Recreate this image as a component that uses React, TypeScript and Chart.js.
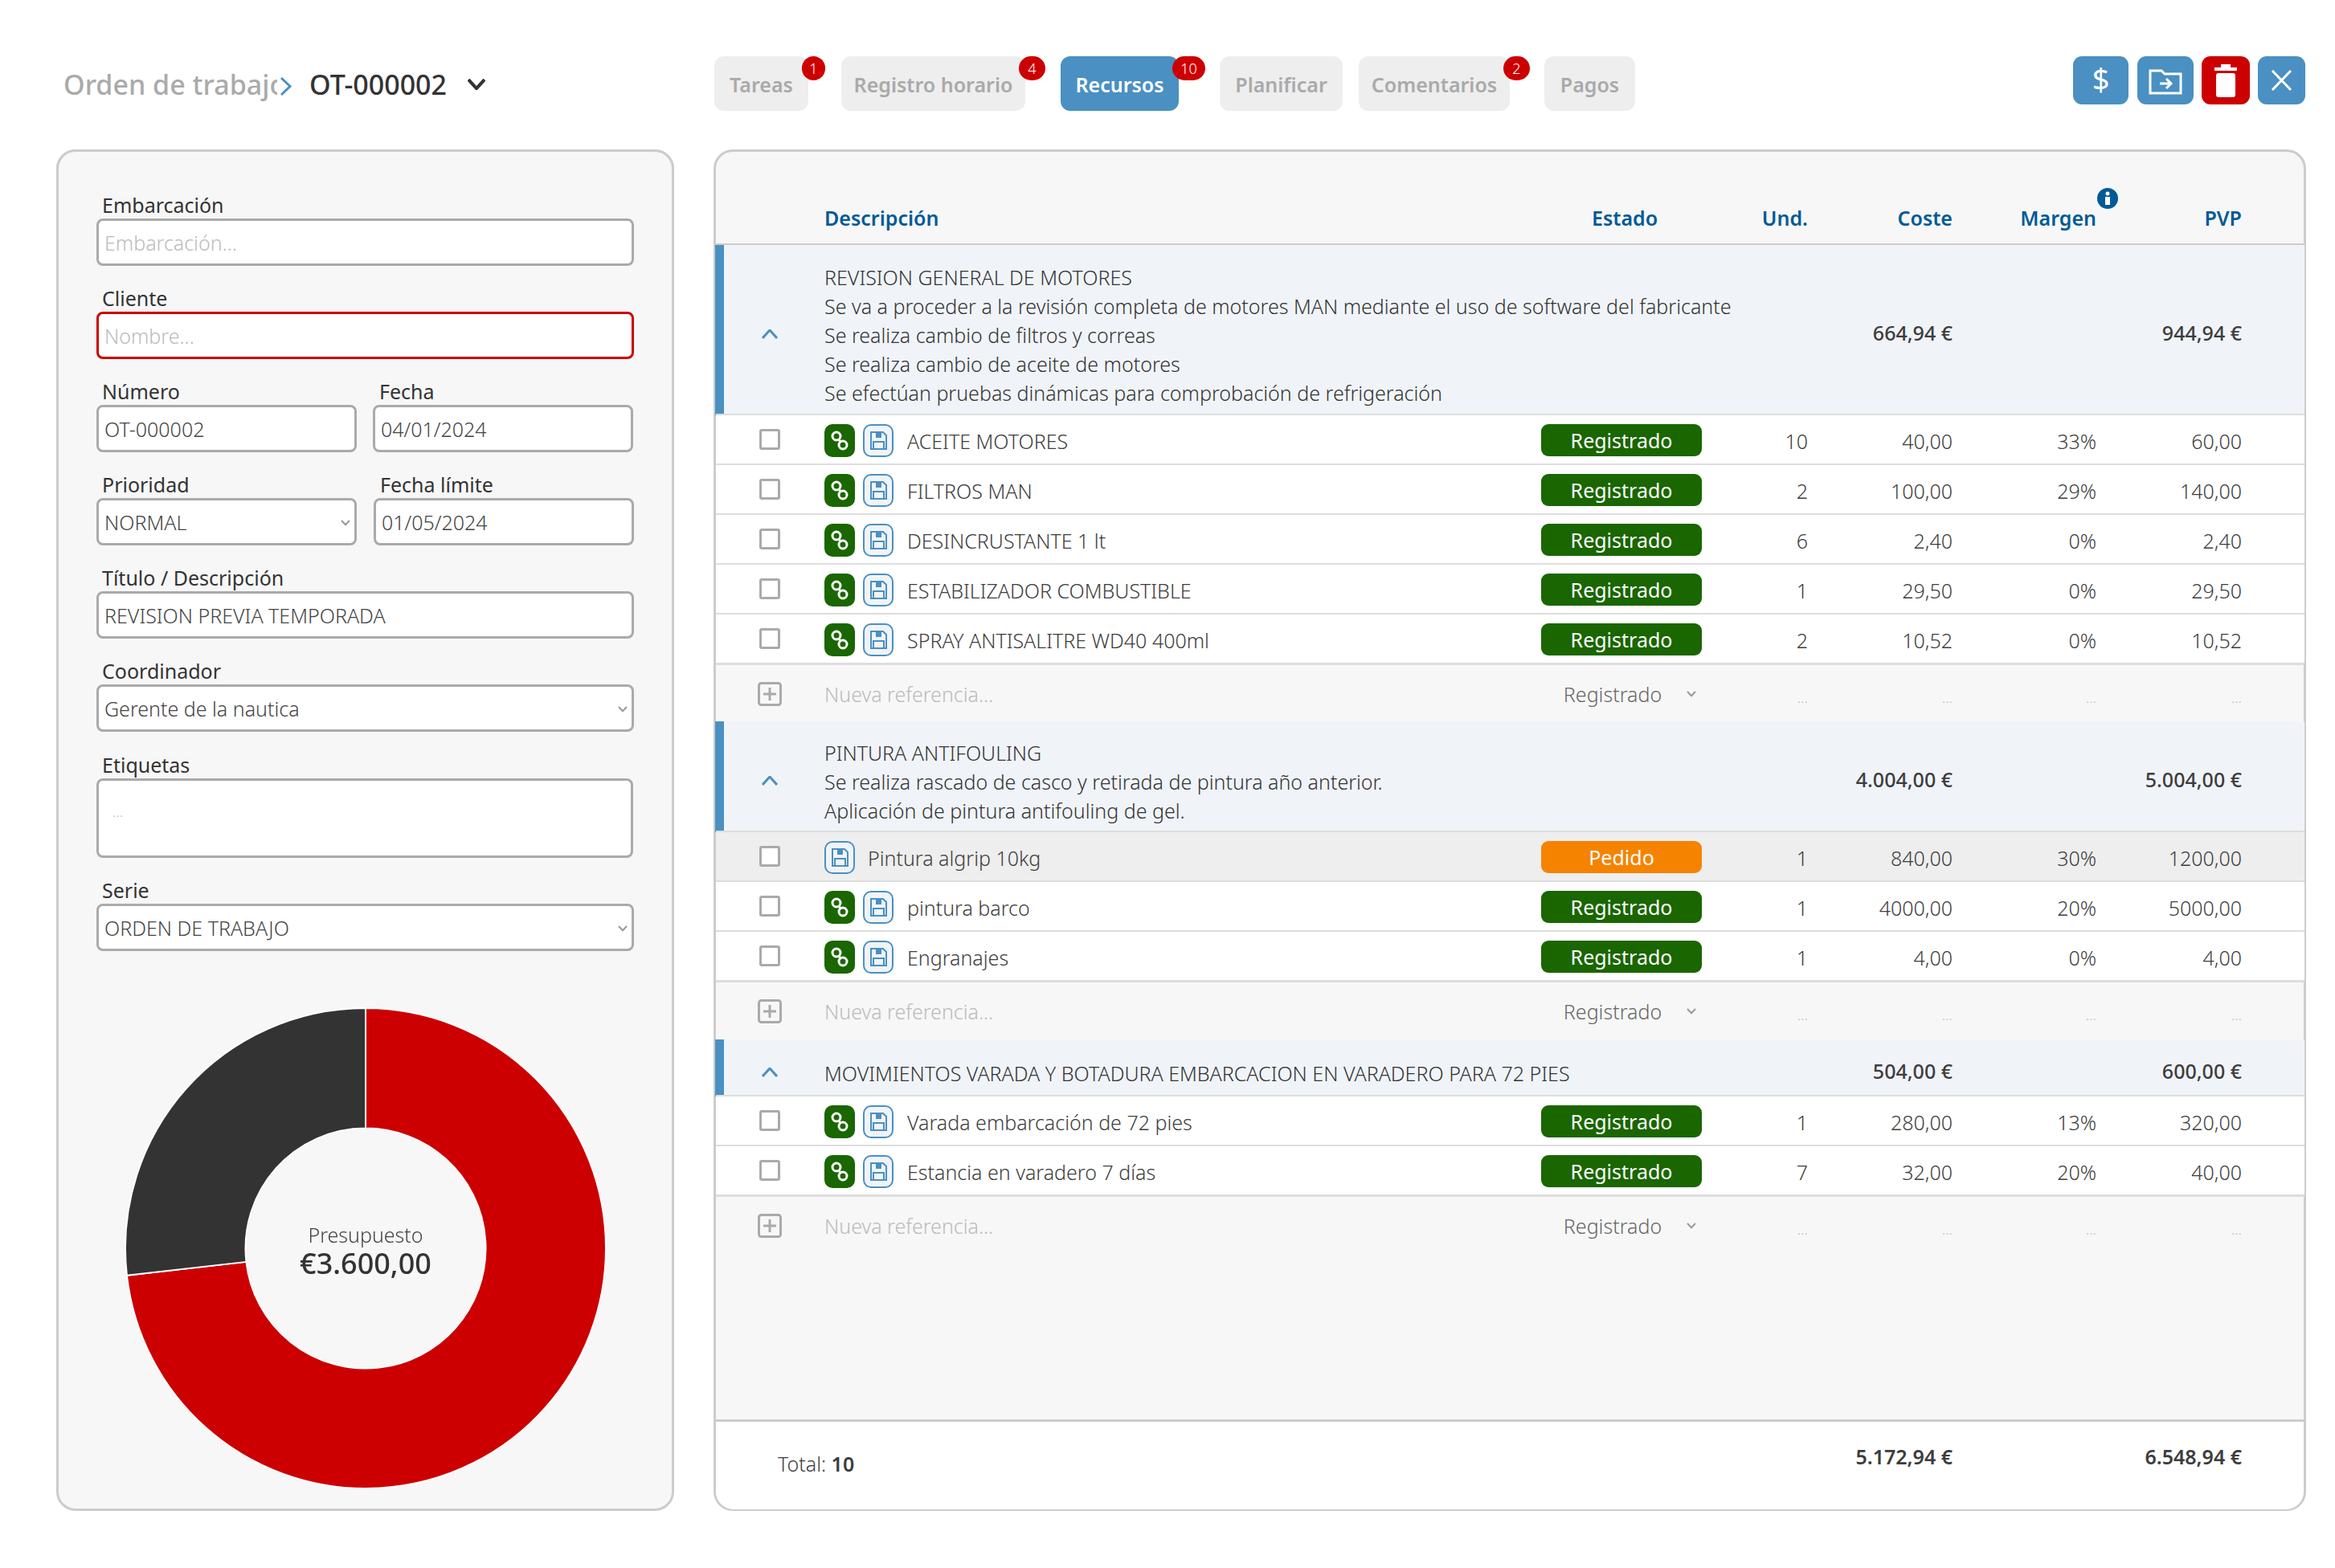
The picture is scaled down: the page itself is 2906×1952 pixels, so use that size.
import { useEffect, useRef } from 'react';
import { Chart, registerables } from 'chart.js';

Chart.register(...registerables);

const font = '"Noto Sans", sans-serif';

const donutLabels = ['Gastado', 'Disponible'];
const donutValues = [73.2, 26.8];
const donutColors = ['#cc0000', '#333333'];

const tabNames = ['Tareas', 'Registro horario', 'Recursos', 'Planificar', 'Comentarios', 'Pagos'];
const tabBadges = ['1', '4', '10', '', '2', ''];

const group1Lines = [
  'REVISION GENERAL DE MOTORES',
  'Se va a proceder a la revisión completa de motores MAN mediante el uso de software del fabricante',
  'Se realiza cambio de filtros y correas',
  'Se realiza cambio de aceite de motores',
  'Se efectúan pruebas dinámicas para comprobación de refrigeración',
];
const group2Lines = [
  'PINTURA ANTIFOULING',
  'Se realiza rascado de casco y retirada de pintura año anterior.',
  'Aplicación de pintura antifouling de gel.',
];
const group3Lines = ['MOVIMIENTOS VARADA Y BOTADURA EMBARCACION EN VARADERO PARA 72 PIES'];

const groupCoste = ['664,94 €', '4.004,00 €', '504,00 €'];
const groupPvp = ['944,94 €', '5.004,00 €', '600,00 €'];

const group1Names = ['ACEITE MOTORES', 'FILTROS MAN', 'DESINCRUSTANTE 1 lt', 'ESTABILIZADOR COMBUSTIBLE', 'SPRAY ANTISALITRE WD40 400ml'];
const group1Und = ['10', '2', '6', '1', '2'];
const group1Coste = ['40,00', '100,00', '2,40', '29,50', '10,52'];
const group1Margen = ['33%', '29%', '0%', '0%', '0%'];
const group1Pvp = ['60,00', '140,00', '2,40', '29,50', '10,52'];

const group2Names = ['Pintura algrip 10kg', 'pintura barco', 'Engranajes'];
const group2Und = ['1', '1', '1'];
const group2Coste = ['840,00', '4000,00', '4,00'];
const group2Margen = ['30%', '20%', '0%'];
const group2Pvp = ['1200,00', '5000,00', '4,00'];
const group2Estado = ['Pedido', 'Registrado', 'Registrado'];

const group3Names = ['Varada embarcación de 72 pies', 'Estancia en varadero 7 días'];
const group3Und = ['1', '7'];
const group3Coste = ['280,00', '32,00'];
const group3Margen = ['13%', '20%'];
const group3Pvp = ['320,00', '40,00'];

const BLUE = '#4a90c2';
const GREEN = '#1a6600';
const RED = '#cc0000';
const TEXT = '#3d3d3d';
const NAVY = '#005a96';
const ROW = 61.9;

function T({ x, y, size = 25, weight = 300, color = TEXT, align = 'left', children, spacing = 0 }: any) {
  const h = 60;
  const style: any = {
    position: 'absolute',
    top: y - h / 2,
    height: h,
    lineHeight: h + 'px',
    fontSize: size,
    fontWeight: weight,
    color,
    whiteSpace: 'nowrap',
    letterSpacing: spacing,
    fontFamily: font,
  };
  if (align === 'right') style.right = 2906 - x;
  else if (align === 'center') {
    style.left = x;
    style.transform = 'translateX(-50%)';
  } else style.left = x;
  return <div style={style}>{children}</div>;
}

function Box({ x, y, w, h, bg, border, radius = 0, children }: any) {
  return (
    <div
      style={{
        position: 'absolute',
        left: x,
        top: y,
        width: w,
        height: h,
        background: bg,
        border,
        borderRadius: radius,
        boxSizing: 'border-box',
      }}
    >
      {children}
    </div>
  );
}

function Chevron({ x, y, w = 12, up = false, color = '#888', stroke = 2 }: any) {
  const h = w * 0.6;
  const pts = up ? `1,${h - 1} ${w / 2},1 ${w - 1},${h - 1}` : `1,1 ${w / 2},${h - 1} ${w - 1},1`;
  return (
    <svg style={{ position: 'absolute', left: x - w / 2, top: y - h / 2 }} width={w} height={h}>
      <polyline points={pts} fill="none" stroke={color} strokeWidth={stroke} />
    </svg>
  );
}

function Field({ label, x, y, w, value, placeholder, red, select, labelX, h = 59 }: any) {
  return (
    <>
      <T x={labelX ?? x + 7} y={y - 17} size={25} weight={400} color="#333">{label}</T>
      <Box x={x} y={y} w={w} h={h} bg="#fff" border={`3px solid ${red ? RED : '#aaa'}`} radius={8} />
      {value && <T x={x + 10} y={y + 30} size={25} color="#444">{value}</T>}
      {placeholder && <T x={x + 10} y={y + 30} size={25} color="#bbb">{placeholder}</T>}
      {select && <Chevron x={x + w - 14} y={y + 31} w={12} color="#999" />}
    </>
  );
}

function LinkIcon({ x, y }: any) {
  return (
    <svg style={{ position: 'absolute', left: x, top: y }} width={38} height={41}>
      <rect width={38} height={41} rx={10} fill={GREEN} />
      <circle cx={15} cy={15} r={5} fill="none" stroke="#fff" strokeWidth={3} />
      <circle cx={23} cy={26} r={5} fill="none" stroke="#fff" strokeWidth={3} />
      <line x1={18} y1={19} x2={20} y2={22} stroke="#fff" strokeWidth={3} />
    </svg>
  );
}

function SaveIcon({ x, y }: any) {
  return (
    <svg style={{ position: 'absolute', left: x, top: y }} width={38} height={41}>
      <rect x={1} y={1} width={36} height={39} rx={9} fill="#f0f4f8" stroke={BLUE} strokeWidth={2} />
      <path d="M10 10 H25 L29 14 V31 H10 Z" fill="none" stroke={BLUE} strokeWidth={2} />
      <rect x={16} y={10} width={7} height={7} fill={BLUE} />
      <rect x={13} y={22} width={13} height={9} fill="none" stroke={BLUE} strokeWidth={2} />
    </svg>
  );
}

function GroupHeader({ y, h, lines, coste, pvp }: any) {
  const mid = y + h / 2;
  const first = mid + 6 - ((lines.length - 1) * 36.2) / 2;
  return (
    <>
      <Box x={891} y={y} w={1977} h={h} bg="#f0f4f8" />
      <Box x={890} y={y} w={11} h={h} bg={BLUE} />
      <Box x={891} y={y + h - 2} w={1977} h={3} bg="#ddd" />
      <Chevron x={958} y={mid + 5} w={20} up color={BLUE} stroke={3} />
      {lines.map((l: string, i: number) => (
        <T key={i} x={1026} y={first + i * 36.2} color="#333">{l}</T>
      ))}
      <T x={2430} y={mid + 3} align="right" weight={500}>{coste}</T>
      <T x={2790} y={mid + 3} align="right" weight={500}>{pvp}</T>
    </>
  );
}

function ItemRow({ y, name, und, coste, margen, pvp, estado = 'Registrado' }: any) {
  const pedido = estado === 'Pedido';
  const mid = y + ROW / 2;
  return (
    <>
      <Box x={891} y={y} w={1977} h={ROW} bg={pedido ? '#eeeeee' : '#fff'} />
      <Box x={891} y={y + ROW - 2} w={1977} h={3} bg="#ddd" />
      <Box x={945} y={mid - 14} w={26} h={26} bg="#fff" border="3px solid #aaa" radius={3} />
      {pedido ? (
        <SaveIcon x={1026} y={mid - 20} />
      ) : (
        <>
          <LinkIcon x={1026} y={mid - 20} />
          <SaveIcon x={1074} y={mid - 20} />
        </>
      )}
      <T x={pedido ? 1080 : 1129} y={mid + 1}>{name}</T>
      <Box x={1918} y={mid - 20} w={200} h={40} bg={pedido ? '#f58300' : GREEN} radius={9} />
      <T x={2018} y={mid} align="center" color="#fff" weight={400}>{estado}</T>
      <T x={2250} y={mid + 1} align="right">{und}</T>
      <T x={2430} y={mid + 1} align="right">{coste}</T>
      <T x={2609} y={mid + 1} align="right">{margen}</T>
      <T x={2790} y={mid + 1} align="right">{pvp}</T>
    </>
  );
}

function NewRow({ y }: any) {
  return (
    <>
      <svg style={{ position: 'absolute', left: 943, top: y - 15 }} width={30} height={30}>
        <rect x={1.5} y={1.5} width={27} height={27} rx={3} fill="#f7f7f7" stroke="#aaa" strokeWidth={3} />
        <line x1={15} y1={7} x2={15} y2={23} stroke="#aaa" strokeWidth={3} />
        <line x1={7} y1={15} x2={23} y2={15} stroke="#aaa" strokeWidth={3} />
      </svg>
      <T x={1026} y={y} color="#bbb">Nueva referencia...</T>
      <T x={2007} y={y} align="center" color="#666">Registrado</T>
      <Chevron x={2105} y={y} w={12} color="#999" />
      <T x={2250} y={y + 4} size={18} align="right" color="#bbb">...</T>
      <T x={2430} y={y + 4} size={18} align="right" color="#bbb">...</T>
      <T x={2609} y={y + 4} size={18} align="right" color="#bbb">...</T>
      <T x={2790} y={y + 4} size={18} align="right" color="#bbb">...</T>
    </>
  );
}

function Tab({ x, w, label, badge, badgeW, active }: any) {
  return (
    <>
      <Box x={x} y={70} w={w} h={68} bg={active ? BLUE : '#eeeeee'} radius={12} />
      <T x={x + w / 2} y={105} size={25} weight={600} align="center" color={active ? '#fff' : '#aaa'}>{label}</T>
      {badge && (
        <>
          <Box x={x + w - 8} y={70} w={badgeW} h={30} bg={RED} radius={15} />
          <T x={x + w - 8 + badgeW / 2} y={85} size={18} align="center" color="#fff">{badge}</T>
        </>
      )}
    </>
  );
}

function ActionButton({ x, w, bg, children }: any) {
  return (
    <svg style={{ position: 'absolute', left: x, top: 70 }} width={w} height={60}>
      <rect width={w} height={60} rx={11} fill={bg} />
      {children}
    </svg>
  );
}

function Donut() {
  const ref = useRef<HTMLCanvasElement>(null);
  useEffect(() => {
    if (!ref.current) return;
    const chart = new Chart(ref.current, {
      type: 'doughnut',
      data: {
        labels: donutLabels,
        datasets: [{ data: donutValues, backgroundColor: donutColors, borderColor: '#fff', borderWidth: 2 }],
      },
      options: {
        animation: false,
        responsive: false,
        cutout: '50%',
        layout: { padding: 0 },
        plugins: { legend: { display: false }, tooltip: { enabled: false } },
      },
    });
    return () => chart.destroy();
  }, []);
  return <canvas ref={ref} width={600} height={600} style={{ position: 'absolute', left: 155, top: 1253.5 }} />;
}

export default function App() {
  const tabX = [889, 1047, 1320, 1518, 1691, 1922];
  const tabW = [117, 229, 147, 153, 188, 113];
  const badgeW = [29, 33, 41, 0, 33, 0];
  return (
    <div style={{ position: 'absolute', left: 0, top: 0, width: 2906, height: 1952, background: '#fff', overflow: 'hidden', fontFamily: font }}>
      <T x={79} y={105} size={34} weight={500} color="#aaa">Orden de trabajo</T>
      <Chevron x={356} y={107} w={22} color={BLUE} stroke={3} />
      <svg style={{ position: 'absolute', left: 345, top: 95 }} width={22} height={25}>
        <rect width={22} height={25} fill="#fff" />
        <polyline points="5,2 16,12.5 5,23" fill="none" stroke={BLUE} strokeWidth={3} />
      </svg>
      <T x={385} y={105} size={34} weight={500} color="#333">OT-000002</T>
      <Chevron x={593} y={105} w={22} color="#333" stroke={4} />

      {tabNames.map((n, i) => (
        <Tab key={n} x={tabX[i]} w={tabW[i]} label={n} badge={tabBadges[i]} badgeW={badgeW[i]} active={n === 'Recursos'} />
      ))}

      <ActionButton x={2580} w={69} bg={BLUE}>
        <text x={34.5} y={43} textAnchor="middle" fontSize={38} fill="#fff" fontFamily={font}>$</text>
      </ActionButton>
      <ActionButton x={2660} w={70} bg={BLUE}>
        <path d="M16 18 H30 L34 22 H54 V46 H16 Z" fill="none" stroke="#fff" strokeWidth={3} />
        <path d="M28 34 H42 M36 28 L42 34 L36 40" fill="none" stroke="#fff" strokeWidth={3} />
      </ActionButton>
      <ActionButton x={2740} w={60} bg={RED}>
        <rect x={18} y={21} width={24} height={30} rx={3} fill="#fff" />
        <rect x={16} y={14} width={28} height={4} fill="#fff" />
        <rect x={24} y={10} width={12} height={4} fill="#fff" />
      </ActionButton>
      <ActionButton x={2810} w={59} bg={BLUE}>
        <path d="M18 18 L41 42 M41 18 L18 42" stroke="#fff" strokeWidth={3} />
      </ActionButton>

      {/* panel izquierdo */}
      <Box x={70} y={186} w={769} h={695} bg="#f7f7f7" border="3px solid #ccc" radius={24} />
      <Box x={70} y={186} w={769} h={1695} bg="#f7f7f7" border="3px solid #ccc" radius={24} />
      <Field label="Embarcación" x={120} y={272} w={669} placeholder="Embarcación..." />
      <Field label="Cliente" x={120} y={388} w={669} placeholder="Nombre..." red />
      <Field label="Número" x={120} y={504} w={324} value="OT-000002" />
      <Field label="Fecha" x={464} y={504} w={324} value="04/01/2024" labelX={472} />
      <Field label="Prioridad" x={120} y={620} w={324} value="NORMAL" select />
      <Field label="Fecha límite" x={465} y={620} w={324} value="01/05/2024" labelX={473} />
      <Field label="Título / Descripción" x={120} y={736} w={669} value="REVISION PREVIA TEMPORADA" />
      <Field label="Coordinador" x={120} y={852} w={669} value="Gerente de la nautica" select />
      <Field label="Etiquetas" x={120} y={969} w={668} h={99} />
      <T x={140} y={1010} color="#bbb" size={18}>...</T>
      <Field label="Serie" x={120} y={1125} w={669} value="ORDEN DE TRABAJO" select />

      <Donut />
      <T x={455} y={1537} align="center" size={25} color="#444">Presupuesto</T>
      <T x={455} y={1573} align="center" size={36} weight={500} color="#333">€3.600,00</T>

      {/* panel derecho */}
      <Box x={888} y={186} w={1982} h={1695} bg="#f7f7f7" border="3px solid #ccc" radius={24} />
      <T x={1026} y={271} weight={600} color={NAVY}>Descripción</T>
      <T x={1981} y={271} weight={600} color={NAVY}>Estado</T>
      <T x={2250} y={271} weight={600} color={NAVY} align="right">Und.</T>
      <T x={2430} y={271} weight={600} color={NAVY} align="right">Coste</T>
      <T x={2609} y={271} weight={600} color={NAVY} align="right">Margen</T>
      <T x={2790} y={271} weight={600} color={NAVY} align="right">PVP</T>
      <svg style={{ position: 'absolute', left: 2610, top: 234 }} width={26} height={26}>
        <circle cx={13} cy={13} r={13} fill={NAVY} />
        <circle cx={13} cy={7} r={2.5} fill="#fff" />
        <rect x={10} y={11} width={6} height={10} fill="#fff" />
      </svg>
      <Box x={891} y={303} w={1977} h={3} bg="#ccc" />

      <GroupHeader y={305} h={212} lines={group1Lines} coste={groupCoste[0]} pvp={groupPvp[0]} />
      {group1Names.map((n, i) => (
        <ItemRow key={n} y={517 + i * ROW} name={n} und={group1Und[i]} coste={group1Coste[i]} margen={group1Margen[i]} pvp={group1Pvp[i]} />
      ))}
      <NewRow y={864} />

      <GroupHeader y={898} h={138} lines={group2Lines} coste={groupCoste[1]} pvp={groupPvp[1]} />
      {group2Names.map((n, i) => (
        <ItemRow key={n} y={1036 + i * 62.2} name={n} und={group2Und[i]} coste={group2Coste[i]} margen={group2Margen[i]} pvp={group2Pvp[i]} estado={group2Estado[i]} />
      ))}
      <NewRow y={1259} />

      <GroupHeader y={1294} h={71} lines={group3Lines} coste={groupCoste[2]} pvp={groupPvp[2]} />
      {group3Names.map((n, i) => (
        <ItemRow key={n} y={1365 + i * ROW} name={n} und={group3Und[i]} coste={group3Coste[i]} margen={group3Margen[i]} pvp={group3Pvp[i]} />
      ))}
      <NewRow y={1526} />

      {/* pie */}
      <div style={{ position: 'absolute', left: 891, top: 1767, width: 1976, height: 112, background: '#fff', borderTop: '3px solid #ccc', boxSizing: 'border-box', borderRadius: '0 0 22px 22px' }} />
      <T x={968} y={1822}>Total: <b style={{ fontWeight: 600 }}>10</b></T>
      <T x={2430} y={1813} align="right" weight={600}>5.172,94 €</T>
      <T x={2790} y={1813} align="right" weight={600}>6.548,94 €</T>
    </div>
  );
}
